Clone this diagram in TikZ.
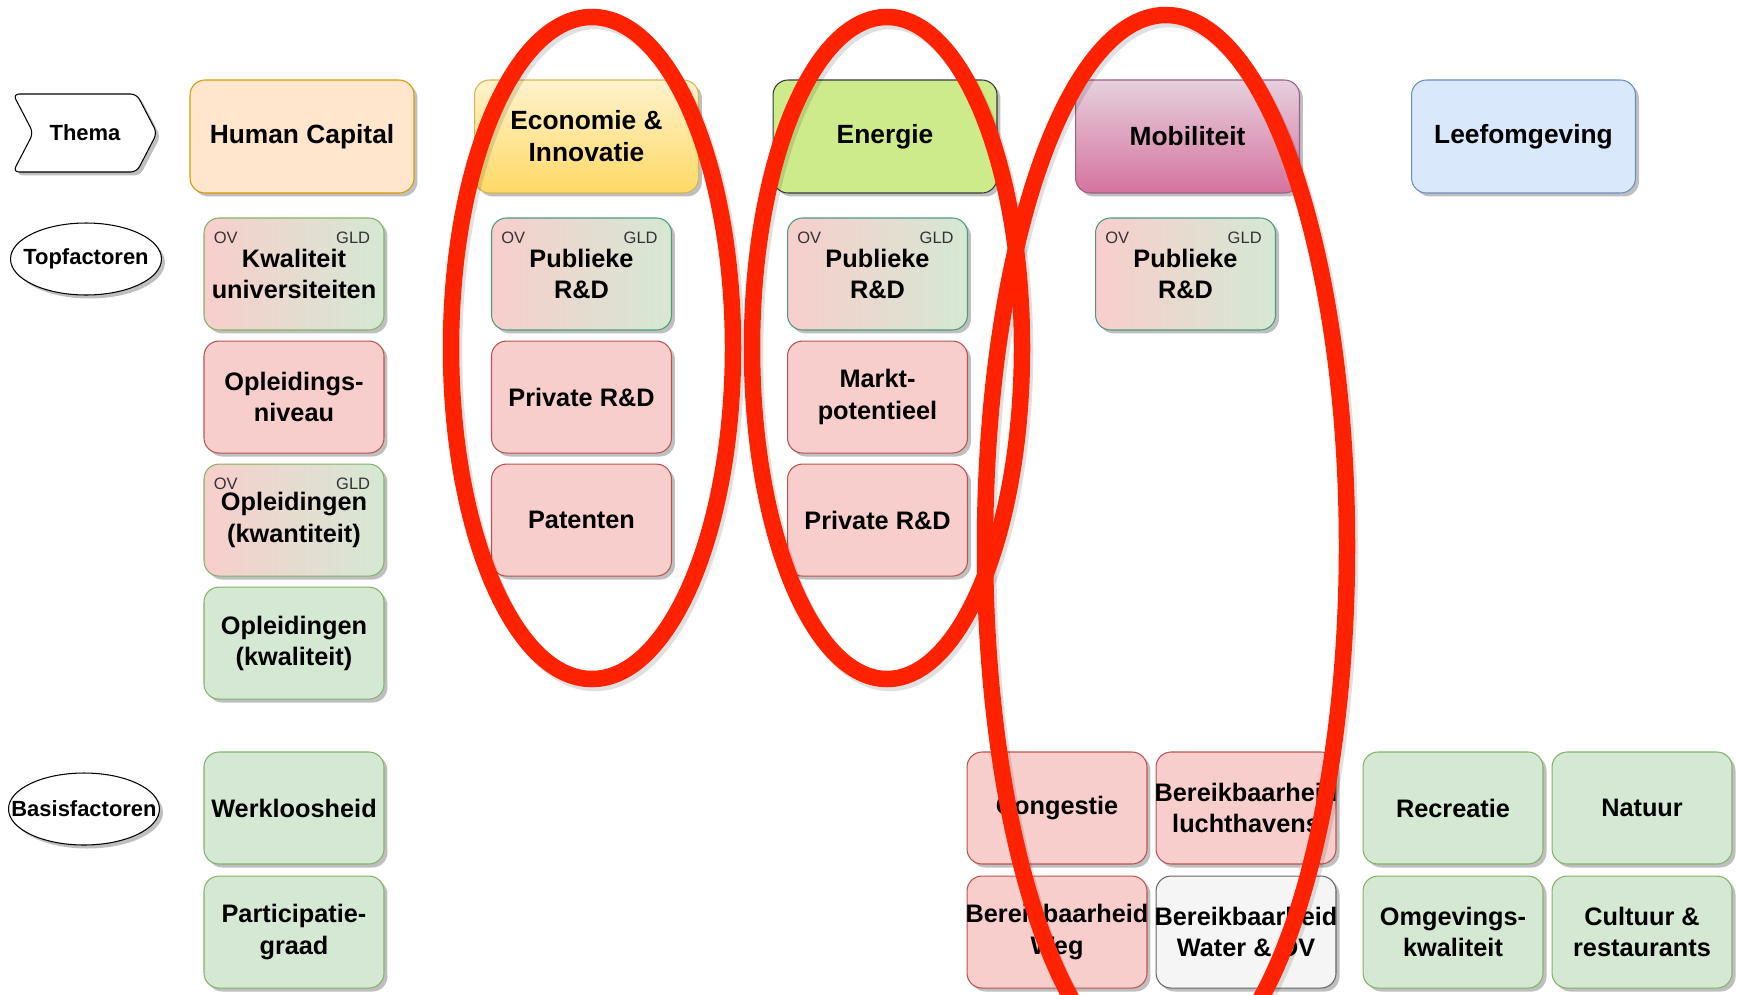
\documentclass[tikz,border=0pt]{standalone}
\usepackage{fontspec}
\setmainfont{Liberation Sans}
\usepackage{tikz}
\usetikzlibrary{positioning, shapes.geometric, shapes.symbols, shadows}

\definecolor{roodvul}{HTML}{F8CECC}
\definecolor{roodlijn}{HTML}{B85450}
\definecolor{groenvul}{HTML}{D5E8D4}
\definecolor{groenlijn}{HTML}{82B366}
\definecolor{tealijn}{HTML}{4E9A7A}
\definecolor{grijsvul}{HTML}{F5F5F5}
\definecolor{grijslijn}{HTML}{666666}
\definecolor{hcvul}{HTML}{FFE6CC}
\definecolor{hclijn}{HTML}{D79B00}
\definecolor{ecoboven}{HTML}{FFF2CC}
\definecolor{ecoonder}{HTML}{FFD966}
\definecolor{ecolijn}{HTML}{D6B656}
\definecolor{energievul}{HTML}{CDEB8B}
\definecolor{energielijn}{HTML}{36393D}
\definecolor{mobboven}{HTML}{E6D0DE}
\definecolor{mobonder}{HTML}{D5739D}
\definecolor{moblijn}{HTML}{996185}
\definecolor{leefvul}{HTML}{DAE8FC}
\definecolor{leeflijn}{HTML}{6C8EBF}
\definecolor{ringrood}{HTML}{FF2200}

\begin{document}
\begin{tikzpicture}[
        x=0.02cm, y=-0.02cm,
        node distance=0.2cm,
        every node/.style={align=center, font=\fontsize{14.4}{17.8}\selectfont\bfseries},
        schaduw/.style={drop shadow={shadow xshift=0.07cm, shadow yshift=-0.07cm, opacity=0.25, fill=black}},
        thema/.style={draw, line width=0.6pt, rounded corners=0.3cm, minimum width=4.48cm, minimum height=2.26cm, schaduw, font=\fontsize{15}{18.2}\selectfont\bfseries},
        factor/.style={draw, line width=0.6pt, rounded corners=0.3cm, minimum width=3.6cm, minimum height=2.24cm, inner xsep=-2pt, schaduw},
        rood/.style={factor, fill=roodvul, draw=roodlijn},
        groen/.style={factor, fill=groenvul, draw=groenlijn},
        grijs/.style={factor, fill=grijsvul, draw=grijslijn},
        ovgld/.style={factor, left color=roodvul, right color=groenvul, draw=#1,
            label={[regio, anchor=north west, xshift=0.2cm, yshift=-0.28cm]north west:OV},
            label={[regio, anchor=north east, xshift=-0.28cm, yshift=-0.28cm]north east:GLD}},
        ovgld/.default=groenlijn,
        regio/.style={font=\fontsize{9.4}{11}\selectfont, inner sep=0pt, text=black!80},
        legenda/.style={draw, line width=0.6pt, fill=white, schaduw, font=\fontsize{12.5}{15}\selectfont\bfseries},
        ovaal/.style={legenda, ellipse, minimum width=3.02cm, minimum height=1.44cm, inner xsep=-0.5cm, inner ysep=0pt},
        ring/.style={draw=ringrood, line width=0.33cm},
        ringschaduw/.style={draw=black, opacity=0.12, line width=0.33cm}
        ]
        \useasboundingbox (0,0) rectangle (1737,994);

        % Legenda
        \node[legenda, signal, signal to=east, signal from=west, signal pointer angle=125,
            minimum width=2.88cm, minimum height=1.56cm, rounded corners=0.12cm] (thema) at (85,133) {Thema};
        \node[ovaal] (top) at (86,259) {Topfactoren};
        \node[ovaal] (basis) at (84,809) {Basisfactoren};

        % Thema's
        \node[thema, fill=hcvul, draw=hclijn] (hc) at (302,136.5) {Human Capital};
        \node[thema, top color=ecoboven, bottom color=ecoonder, draw=ecolijn] (eco) at (586.5,136.5) {Economie \&\\Innovatie};
        \node[thema, fill=energievul, draw=energielijn] (energie) at (885,136.5) {Energie};
        \node[thema, top color=mobboven, bottom color=mobonder, draw=moblijn] (mob) at (1187.5,136.5) {Mobiliteit};
        \node[thema, fill=leefvul, draw=leeflijn] (leef) at (1523.5,136.5) {Leefomgeving};

        % Topfactoren
        \node[ovgld] (kwal) at (294,274) {Kwaliteit\\universiteiten};
        \node[rood] (niveau) [below=of kwal] {Opleidings-\\niveau};
        \node[ovgld] (kwant) [below=of niveau] {Opleidingen\\(kwantiteit)};
        \node[groen] (kwalit) [below=of kwant] {Opleidingen\\(kwaliteit)};

        \node[ovgld=tealijn] (ecopub) at (581.5,274) {Publieke\\R\&D};
        \node[rood] (ecopriv) [below=of ecopub] {Private R\&D};
        \node[rood] (patent) [below=of ecopriv] {Patenten};

        \node[ovgld=tealijn] (enpub) at (877.5,274) {Publieke\\R\&D};
        \node[rood] (markt) [below=of enpub] {Markt-\\potentieel};
        \node[rood] (enpriv) [below=of markt] {Private R\&D};

        \node[ovgld=tealijn] (mobpub) at (1185.5,274) {Publieke\\R\&D};

        % Basisfactoren
        \node[groen] (werk) at (294,808) {Werkloosheid};
        \node[groen] (part) [below=0.22cm of werk] {Participatie-\\graad};

        \node[rood] (cong) at (1057,808) {Congestie};
        \node[rood] (lucht) [right=0.16cm of cong] {Bereikbaarheid\\luchthavens};
        \node[rood] (weg) [below=0.22cm of cong] {Bereikbaarheid\\Weg};
        \node[grijs] (water) [below=0.22cm of lucht] {Bereikbaarheid\\Water \& OV};

        \node[groen] (recr) at (1453,808) {Recreatie};
        \node[groen] (natuur) [right=0.16cm of recr] {Natuur};
        \node[groen] (omgev) [below=0.22cm of recr] {Omgevings-\\kwaliteit};
        \node[groen] (cultuur) [below=0.22cm of natuur] {Cultuur \&\\restaurants};

        % Ringen
        \draw[ringschaduw] (595,352) ellipse [x radius=141, y radius=331];
        \draw[ringschaduw] (890,352) ellipse [x radius=135, y radius=331];
        \draw[ringschaduw] (1169,550) ellipse [x radius=181, y radius=531];
        \draw[ring] (592,348) ellipse [x radius=141, y radius=331];
        \draw[ring] (887,348) ellipse [x radius=135, y radius=331];
        \draw[ring] (1166,546) ellipse [x radius=181, y radius=531];
    \end{tikzpicture}
\end{document}
